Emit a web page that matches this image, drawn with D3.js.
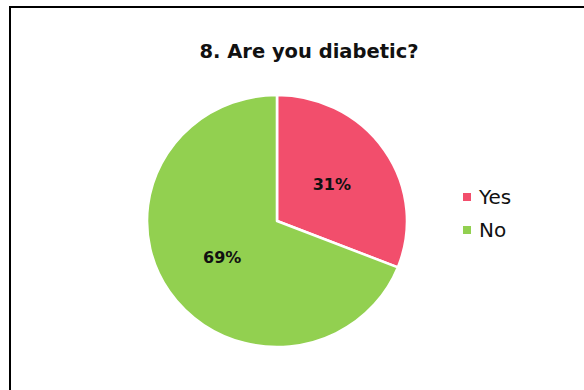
<!DOCTYPE html>
<html>
<head>
<meta charset="utf-8">
<script src="https://cdn.jsdelivr.net/npm/d3@7"></script>
<style>
  html, body { margin: 0; padding: 0; background: #fff; }
  svg { display: block; }
  text { font-family: "DejaVu Sans", sans-serif; }
</style>
</head>
<body>
<svg id="chart" width="584" height="390"></svg>
<script>
// Survey answers
const categories = ["Yes", "No"];
const values = [31, 69];
const colors = ["#F24E6C", "#92D050"];
const title = "8. Are you diabetic?";

const svg = d3.select("#chart");
const W = 584, H = 390;

// Frame (left and top edges)
svg.append("path")
  .attr("d", `M10,${H + 5} L10,7 L${W + 5},7`)
  .attr("fill", "none")
  .attr("stroke", "#000")
  .attr("stroke-width", 2);

svg.append("text")
  .attr("x", 309).attr("y", 58)
  .attr("text-anchor", "middle")
  .attr("font-size", 19.5)
  .attr("font-weight", "bold")
  .attr("fill", "#111")
  .text(title);

// Pie is slightly wider than tall
const cx = 277, cy = 221, ry = 126, rx = 130;
const sx = rx / ry;
const pie = d3.pie().sort(null).value(d => d.value);
const arcs = pie(categories.map((c, i) => ({ cat: c, value: values[i], color: colors[i] })));
const arc = d3.arc().innerRadius(0).outerRadius(ry);
const labelArc = d3.arc().innerRadius(ry * 0.51).outerRadius(ry * 0.51);

const g = svg.append("g").attr("transform", `translate(${cx},${cy})`);
g.append("g").attr("transform", `scale(${sx},1)`)
  .selectAll("path.slice").data(arcs).enter().append("path")
  .attr("class", "slice")
  .attr("d", arc)
  .attr("fill", d => d.data.color)
  .attr("stroke", "#fff")
  .attr("stroke-width", 2.5)
  .attr("stroke-linejoin", "round");

g.selectAll("text.lbl").data(arcs).enter().append("text")
  .attr("class", "lbl")
  .attr("transform", d => {
    const [x, y] = labelArc.centroid(d);
    return `translate(${x * sx},${y})`;
  })
  .attr("text-anchor", "middle")
  .attr("dominant-baseline", "central")
  .attr("font-size", 16)
  .attr("font-weight", "bold")
  .attr("fill", "#111")
  .text(d => d.data.value + "%");

// Legend
const legend = svg.append("g").attr("transform", "translate(463,197)");
const items = legend.selectAll("g").data(categories).enter().append("g")
  .attr("transform", (d, i) => `translate(0,${i * 33})`);
items.append("rect")
  .attr("x", 0).attr("y", -4).attr("width", 8).attr("height", 8)
  .attr("fill", (d, i) => colors[i]);
items.append("text")
  .attr("x", 16).attr("y", 0)
  .attr("dominant-baseline", "central")
  .attr("font-size", 20)
  .attr("fill", "#111")
  .text(d => d);
</script>
</body>
</html>
